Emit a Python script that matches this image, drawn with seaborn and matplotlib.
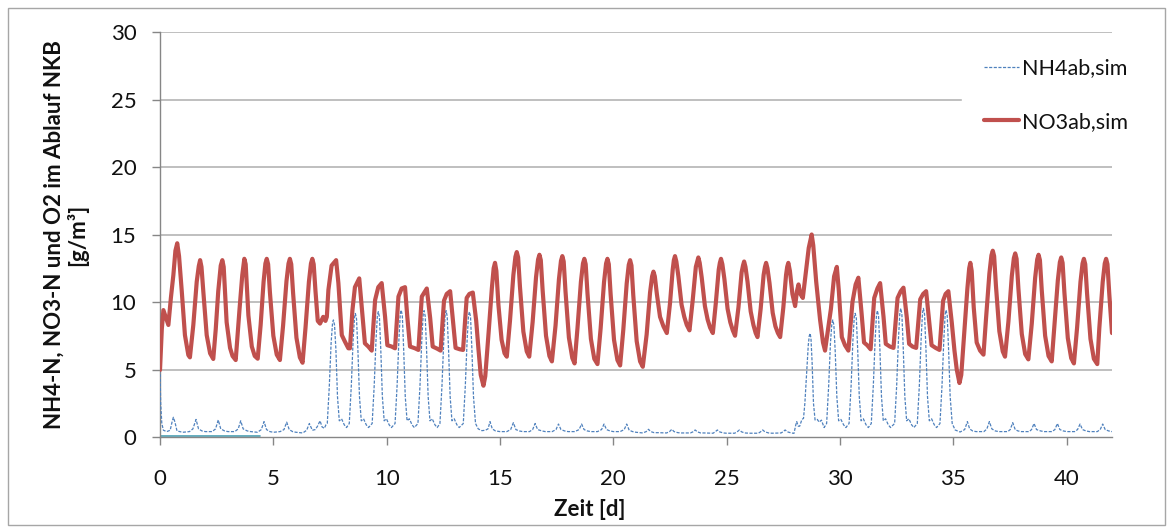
import numpy as np
import pandas as pd
import matplotlib
matplotlib.use("Agg")
import matplotlib.pyplot as plt
import seaborn as sns
from matplotlib.lines import Line2D
from matplotlib.patches import Rectangle

# ---------------- data ----------------
no3_points = [
    (0.00, 4.96), (0.08, 8.0), (0.15, 9.4), (0.25, 8.9), (0.37, 8.3), (0.48, 10.3), (0.59, 12.0),
    (0.68, 13.8), (0.76, 14.35), (0.84, 13.4), (0.96, 10.8), (1.10, 7.55), (1.25, 6.07), (1.32, 5.9),
    (1.47, 8.3), (1.62, 11.5), (1.71, 12.65), (1.77, 13.1), (1.83, 12.6), (1.91, 10.8), (2.06, 7.55),
    (2.21, 6.2), (2.35, 5.78), (2.46, 8.0), (2.57, 10.8), (2.68, 12.7), (2.75, 13.1), (2.81, 12.6),
    (2.94, 8.5), (3.09, 6.6), (3.20, 6.0), (3.34, 5.7), (3.51, 9.5), (3.63, 12.0), (3.72, 13.2),
    (3.78, 12.8), (3.90, 9.0), (4.05, 6.7), (4.18, 6.0), (4.31, 5.8), (4.44, 8.3), (4.57, 11.5),
    (4.65, 12.85), (4.71, 13.2), (4.77, 12.8), (4.85, 10.7), (5.00, 7.5), (5.15, 6.1), (5.29, 5.7),
    (5.43, 8.25), (5.58, 11.55), (5.67, 12.85), (5.73, 13.2), (5.79, 12.8), (5.87, 10.7), (6.02, 7.35),
    (6.17, 5.9), (6.29, 5.5), (6.42, 8.1), (6.57, 11.5), (6.66, 12.85), (6.72, 13.2), (6.78, 12.8),
    (6.86, 10.8), (6.96, 8.6), (7.06, 8.4), (7.20, 8.9), (7.30, 8.6), (7.36, 8.9), (7.43, 10.9),
    (7.57, 12.7), (7.77, 13.1), (7.87, 11.4), (8.02, 7.55), (8.16, 7.06), (8.31, 6.57), (8.38, 6.57),
    (8.49, 9.4), (8.60, 11.1), (8.79, 11.75), (8.94, 8.9), (9.04, 6.94), (9.19, 6.7), (9.34, 6.4),
    (9.49, 10.15), (9.63, 11.1), (9.78, 11.4), (9.93, 8.9), (10.03, 6.8), (10.22, 6.7), (10.37, 6.57),
    (10.52, 10.4), (10.66, 11.0), (10.81, 11.1), (10.91, 8.9), (11.03, 6.7), (11.25, 6.57), (11.40, 6.45),
    (11.55, 10.4), (11.77, 11.0), (11.92, 8.8), (12.03, 6.7), (12.22, 6.55), (12.38, 6.4), (12.53, 10.1),
    (12.65, 10.6), (12.80, 10.8), (12.92, 8.7), (13.04, 6.6), (13.22, 6.5), (13.37, 6.45), (13.53, 10.3),
    (13.65, 10.6), (13.80, 10.7), (13.95, 8.6), (14.05, 6.5), (14.15, 4.6), (14.27, 3.8), (14.35, 4.5),
    (14.50, 7.8), (14.64, 11.0), (14.72, 12.5), (14.78, 12.9), (14.84, 12.3), (14.93, 9.8), (15.07, 7.2),
    (15.20, 6.2), (15.30, 5.95), (15.44, 8.6), (15.59, 12.0), (15.68, 13.35), (15.74, 13.7), (15.80, 13.3),
    (15.88, 11.14), (16.03, 7.81), (16.18, 6.34), (16.29, 5.95), (16.44, 8.52), (16.59, 11.84),
    (16.68, 13.15), (16.74, 13.5), (16.80, 13.1), (16.88, 10.89), (17.03, 7.5), (17.18, 6.0), (17.29, 5.6),
    (17.45, 8.25), (17.60, 11.68), (17.69, 13.05), (17.75, 13.4), (17.81, 13.0), (17.89, 10.78),
    (18.04, 7.36), (18.19, 5.85), (18.29, 5.45), (18.42, 8.1), (18.57, 11.5), (18.66, 12.85), (18.72, 13.2),
    (18.78, 12.8), (18.86, 10.63), (19.01, 7.27), (19.16, 5.79), (19.30, 5.4), (19.44, 8.05), (19.59, 11.48),
    (19.68, 12.85), (19.74, 13.2), (19.80, 12.8), (19.88, 10.59), (20.03, 7.2), (20.18, 5.7), (20.30, 5.3),
    (20.44, 7.95), (20.59, 11.38), (20.68, 12.75), (20.74, 13.1), (20.80, 12.7), (20.88, 10.49),
    (21.03, 7.1), (21.18, 5.6), (21.30, 5.2), (21.47, 7.6), (21.62, 10.7), (21.71, 11.9), (21.77, 12.25),
    (21.83, 11.9), (21.92, 10.6), (22.06, 8.9), (22.21, 8.2), (22.36, 7.7), (22.50, 9.9), (22.62, 12.4),
    (22.67, 13.1), (22.72, 13.4), (22.78, 13.0), (22.87, 11.9), (23.01, 9.8), (23.13, 8.9), (23.24, 8.3),
    (23.36, 7.9), (23.50, 10.1), (23.64, 12.6), (23.70, 13.0), (23.75, 13.3), (23.81, 12.9), (23.90, 11.8),
    (24.04, 9.7), (24.16, 8.7), (24.27, 8.1), (24.39, 7.7), (24.52, 9.9), (24.65, 12.4), (24.70, 12.9),
    (24.75, 13.2), (24.81, 12.8), (24.90, 11.7), (25.04, 9.5), (25.16, 8.5), (25.27, 7.9), (25.37, 7.5),
    (25.52, 9.6), (25.66, 12.2), (25.72, 12.7), (25.77, 13.0), (25.83, 12.6), (25.92, 11.5), (26.06, 9.3),
    (26.18, 8.3), (26.28, 7.7), (26.36, 7.4), (26.50, 9.5), (26.63, 12.0), (26.69, 12.6), (26.74, 12.9),
    (26.80, 12.5), (26.89, 11.4), (27.03, 9.2), (27.15, 8.2), (27.26, 7.7), (27.36, 7.4), (27.50, 9.6),
    (27.62, 12.0), (27.67, 12.6), (27.72, 12.9), (27.79, 12.3), (27.90, 10.6), (28.02, 9.7), (28.10, 10.8),
    (28.17, 11.3), (28.25, 10.6), (28.36, 10.3), (28.48, 12.0), (28.62, 14.0), (28.75, 15.0), (28.82, 14.2),
    (28.95, 11.5), (29.12, 8.7), (29.25, 7.0), (29.34, 6.4), (29.60, 9.5), (29.74, 11.9), (29.86, 12.6),
    (29.95, 10.8), (30.08, 7.4), (30.22, 6.8), (30.37, 6.4), (30.55, 10.0), (30.69, 11.3), (30.81, 11.8),
    (30.95, 9.2), (31.06, 7.0), (31.20, 6.8), (31.35, 6.5), (31.51, 10.3), (31.65, 11.0), (31.77, 11.4),
    (31.92, 8.9), (32.02, 6.9), (32.20, 6.7), (32.36, 6.6), (32.54, 10.3), (32.68, 10.8), (32.80, 11.06),
    (32.95, 8.8), (33.05, 6.9), (33.20, 6.7), (33.36, 6.6), (33.54, 10.2), (33.67, 10.6), (33.80, 10.8),
    (33.93, 8.6), (34.04, 6.8), (34.22, 6.6), (34.39, 6.45), (34.55, 10.1), (34.66, 10.6), (34.78, 10.8),
    (34.93, 8.5), (35.05, 6.4), (35.15, 5.0), (35.27, 4.0), (35.35, 4.6), (35.50, 8.2), (35.62, 11.0),
    (35.70, 12.5), (35.75, 12.9), (35.81, 12.3), (35.90, 9.6), (36.03, 7.0), (36.18, 6.4), (36.33, 6.1),
    (36.44, 8.72), (36.59, 12.1), (36.68, 13.45), (36.74, 13.8), (36.80, 13.4), (36.88, 11.2), (37.03, 7.83),
    (37.18, 6.34), (37.28, 5.95), (37.43, 8.55), (37.58, 11.92), (37.67, 13.25), (37.73, 13.6), (37.79, 13.2),
    (37.87, 11.01), (38.02, 7.63), (38.17, 6.14), (38.31, 5.75), (38.46, 8.39), (38.61, 11.8), (38.70, 13.15),
    (38.76, 13.5), (38.82, 13.1), (38.90, 10.89), (39.05, 7.5), (39.20, 6.0), (39.34, 5.6), (39.46, 8.22),
    (39.61, 11.6), (39.70, 12.95), (39.76, 13.3), (39.82, 12.9), (39.90, 10.71), (40.05, 7.33), (40.20, 5.84),
    (40.32, 5.45), (40.46, 8.1), (40.61, 11.5), (40.70, 12.85), (40.76, 13.2), (40.82, 12.8), (40.90, 10.63),
    (41.05, 7.27), (41.20, 5.79), (41.35, 5.4), (41.44, 8.05), (41.59, 11.48), (41.68, 12.85), (41.74, 13.2),
    (41.80, 12.8), (41.88, 10.6), (42.00, 7.7),
]

nh4_points = [
    (0.00, 5.0), (0.03, 2.5), (0.08, 1.0), (0.15, 0.5), (0.30, 0.4), (0.45, 0.5), (0.53, 1.1), (0.59, 1.46),
    (0.66, 1.1), (0.75, 0.45), (1.00, 0.35), (1.30, 0.4), (1.45, 0.6), (1.59, 1.3), (1.70, 0.6), (1.85, 0.45),
    (2.00, 0.4), (2.30, 0.4), (2.45, 0.6), (2.57, 1.26), (2.68, 0.6), (2.85, 0.45), (3.00, 0.4), (3.30, 0.4),
    (3.45, 0.6), (3.56, 1.2), (3.67, 0.6), (3.85, 0.45), (4.00, 0.4), (4.30, 0.35), (4.47, 0.55), (4.59, 1.14),
    (4.70, 0.55), (4.85, 0.4), (5.00, 0.35), (5.30, 0.4), (5.47, 0.55), (5.59, 1.1), (5.70, 0.55), (5.85, 0.4),
    (6.00, 0.35), (6.30, 0.3), (6.47, 0.5), (6.59, 1.0), (6.72, 0.5), (6.85, 0.55), (6.95, 0.8), (7.06, 1.2),
    (7.15, 0.75), (7.25, 0.64), (7.32, 0.9),
    (7.38, 1.0), (7.47, 3.8), (7.55, 7.0), (7.61, 8.4), (7.65, 8.67), (7.70, 8.3), (7.76, 6.5), (7.83, 3.0),
    (7.91, 1.2), (8.01, 1.35), (8.13, 0.9), (8.23, 0.7),
    (8.35, 1.0), (8.44, 3.8), (8.52, 7.2), (8.58, 8.85), (8.62, 9.15), (8.67, 8.75), (8.73, 6.5), (8.80, 3.0),
    (8.88, 1.2), (8.98, 1.35), (9.10, 0.9), (9.20, 0.7),
    (9.36, 1.0), (9.45, 3.8), (9.53, 7.2), (9.59, 9.0), (9.63, 9.28), (9.68, 8.9), (9.74, 6.5), (9.81, 3.0),
    (9.89, 1.2), (9.99, 1.35), (10.11, 0.9), (10.21, 0.7),
    (10.37, 1.0), (10.46, 3.8), (10.54, 7.2), (10.60, 9.1), (10.64, 9.4), (10.69, 9.0), (10.75, 6.5),
    (10.82, 3.0), (10.90, 1.2), (11.00, 1.35), (11.12, 0.9), (11.22, 0.7),
    (11.38, 1.0), (11.47, 3.8), (11.55, 7.2), (11.61, 9.05), (11.65, 9.36), (11.70, 8.95), (11.76, 6.5),
    (11.83, 3.0), (11.91, 1.2), (12.01, 1.35), (12.13, 0.9), (12.23, 0.7),
    (12.35, 1.0), (12.44, 3.8), (12.52, 7.2), (12.58, 9.05), (12.62, 9.36), (12.67, 8.95), (12.73, 6.5),
    (12.80, 3.0), (12.88, 1.2), (12.98, 1.35), (13.10, 0.9), (13.20, 0.7),
    (13.38, 1.0), (13.47, 3.8), (13.55, 7.2), (13.61, 9.0), (13.65, 9.28), (13.70, 8.9), (13.76, 6.5),
    (13.83, 3.0), (13.92, 1.0), (14.04, 0.6), (14.20, 0.47), (14.35, 0.5),
    (14.47, 0.6), (14.56, 1.14), (14.66, 0.6), (14.80, 0.45), (15.00, 0.4), (15.30, 0.4), (15.47, 0.55),
    (15.59, 1.06), (15.70, 0.55), (15.85, 0.45), (16.00, 0.4), (16.30, 0.4), (16.44, 0.55), (16.55, 1.0),
    (16.66, 0.55), (16.85, 0.45), (17.00, 0.4), (17.30, 0.4), (17.47, 0.55), (17.58, 0.96), (17.69, 0.55),
    (17.85, 0.45), (18.00, 0.4), (18.30, 0.4), (18.49, 0.55), (18.60, 0.96), (18.71, 0.55), (18.85, 0.45),
    (19.00, 0.4), (19.30, 0.4), (19.48, 0.55), (19.59, 0.96), (19.70, 0.55), (19.85, 0.45), (20.00, 0.4),
    (20.30, 0.4), (20.48, 0.55), (20.59, 0.96), (20.70, 0.5), (20.85, 0.4), (21.00, 0.35), (21.30, 0.3),
    (21.45, 0.4), (21.55, 0.57), (21.65, 0.4), (21.80, 0.32), (22.00, 0.32), (22.35, 0.3), (22.48, 0.4),
    (22.58, 0.57), (22.68, 0.4), (22.85, 0.32), (23.00, 0.3), (23.40, 0.3), (23.51, 0.38), (23.61, 0.52),
    (23.71, 0.38), (23.85, 0.3), (24.00, 0.3), (24.40, 0.28), (24.49, 0.38), (24.59, 0.52), (24.69, 0.38),
    (24.85, 0.3), (25.00, 0.28), (25.35, 0.28), (25.46, 0.38), (25.56, 0.52), (25.66, 0.38), (25.80, 0.3),
    (26.00, 0.28), (26.40, 0.28), (26.49, 0.38), (26.59, 0.52), (26.69, 0.38), (26.85, 0.3), (27.00, 0.28),
    (27.40, 0.3), (27.48, 0.38), (27.58, 0.52), (27.68, 0.38), (27.85, 0.3), (27.97, 0.27), (28.05, 0.9),
    (28.09, 1.14), (28.16, 0.8), (28.22, 0.8), (28.32, 1.3), (28.39, 1.38),
    (28.45, 2.5), (28.52, 4.5), (28.60, 6.8), (28.64, 7.45), (28.68, 7.68), (28.72, 7.3), (28.77, 5.5),
    (28.83, 2.5), (28.90, 1.26), (29.00, 1.3), (29.08, 1.1), (29.18, 1.25), (29.30, 0.7),
    (29.41, 1.0), (29.50, 3.8), (29.58, 7.0), (29.64, 8.4), (29.68, 8.67), (29.73, 8.3), (29.79, 6.3),
    (29.86, 3.0), (29.94, 1.2), (30.04, 1.3), (30.16, 0.9), (30.26, 0.7),
    (30.40, 1.0), (30.49, 3.8), (30.57, 7.2), (30.63, 8.9), (30.67, 9.16), (30.72, 8.8), (30.78, 6.5),
    (30.85, 3.0), (30.93, 1.2), (31.03, 1.35), (31.15, 0.9), (31.25, 0.7),
    (31.38, 1.0), (31.47, 3.8), (31.55, 7.2), (31.61, 9.05), (31.65, 9.36), (31.70, 8.95), (31.76, 6.5),
    (31.83, 3.0), (31.91, 1.2), (32.01, 1.35), (32.13, 0.9), (32.23, 0.7),
    (32.41, 1.0), (32.50, 3.8), (32.58, 7.3), (32.64, 9.2), (32.68, 9.53), (32.73, 9.1), (32.79, 6.6),
    (32.86, 3.0), (32.94, 1.2), (33.04, 1.35), (33.16, 0.9), (33.26, 0.7),
    (33.41, 1.0), (33.50, 3.8), (33.58, 7.3), (33.64, 9.2), (33.68, 9.53), (33.73, 9.1), (33.79, 6.6),
    (33.86, 3.0), (33.94, 1.2), (34.04, 1.35), (34.16, 0.9), (34.26, 0.7),
    (34.41, 1.0), (34.50, 3.8), (34.58, 7.2), (34.64, 9.1), (34.68, 9.4), (34.73, 9.0), (34.79, 6.5),
    (34.86, 3.0), (34.95, 1.0), (35.08, 0.52), (35.30, 0.37),
    (35.50, 0.55), (35.62, 1.14), (35.72, 0.6), (35.85, 0.45), (36.00, 0.4), (36.35, 0.4), (36.48, 0.6),
    (36.59, 1.14), (36.70, 0.6), (36.85, 0.45), (37.00, 0.4), (37.40, 0.4), (37.51, 0.55), (37.62, 1.06),
    (37.73, 0.55), (37.85, 0.45), (38.00, 0.4), (38.35, 0.4), (38.45, 0.55), (38.56, 1.0), (38.67, 0.55),
    (38.85, 0.45), (39.00, 0.4), (39.35, 0.4), (39.48, 0.55), (39.59, 1.0), (39.70, 0.55), (39.85, 0.45),
    (40.00, 0.4), (40.35, 0.4), (40.48, 0.55), (40.59, 0.96), (40.70, 0.55), (40.85, 0.45), (41.00, 0.4),
    (41.35, 0.4), (41.48, 0.55), (41.59, 0.96), (41.70, 0.55), (41.85, 0.45), (42.00, 0.4),
]

o2_t = [0.0, 4.41]
o2_v = [0.05, 0.05]

no3_t = [p[0] for p in no3_points]
no3_v = [p[1] for p in no3_points]
nh4_t = [p[0] for p in nh4_points]
nh4_v = [p[1] for p in nh4_points]

labels = ["NH4ab,sim", "NO3ab,sim"]
y_ticks = [0, 5, 10, 15, 20, 25, 30]
x_ticks = [0, 5, 10, 15, 20, 25, 30, 35, 40]
ylabel_text = "NH4-N, NO3-N und O2 im Ablauf NKB\n[g/m³]"
xlabel_text = "Zeit [d]"

# ---------------- style ----------------
sns.set_theme(style="white")
plt.rcParams["font.family"] = ["Lato", "DejaVu Sans"]

W, H = 1170, 531
fig = plt.figure(figsize=(W / 100, H / 100), dpi=100)
ax = fig.add_axes([160 / W, 1 - 437 / H, (1112 - 160) / W, (437 - 32) / H])

df_nh4 = pd.DataFrame({"t": nh4_t, "v": nh4_v})
df_no3 = pd.DataFrame({"t": no3_t, "v": no3_v})
df_o2 = pd.DataFrame({"t": o2_t, "v": o2_v})

for yv in y_ticks[1:]:
    ax.axhline(yv, color="#bfbfbf", lw=1.4, zorder=0)

sns.lineplot(data=df_o2, x="t", y="v", ax=ax, color="#4a9fb3", lw=1.2,
             estimator=None, sort=False, zorder=2)
sns.lineplot(data=df_nh4, x="t", y="v", ax=ax, color="#4F81BD", lw=0.9,
             linestyle=(0, (2.5, 1.2)), estimator=None, sort=False, zorder=3)
sns.lineplot(data=df_no3, x="t", y="v", ax=ax, color="#C0504D", lw=3.0,
             estimator=None, sort=False, zorder=4, solid_joinstyle="round")

ax.set_xlim(0, 42)
ax.set_ylim(0, 30)
ax.set_xticks(x_ticks)
ax.set_yticks(y_ticks)
ax.grid(False)
for s in ["top", "right"]:
    ax.spines[s].set_visible(False)
for s in ["left", "bottom"]:
    ax.spines[s].set_color("#868686")
    ax.spines[s].set_linewidth(1.0)
ax.tick_params(axis="y", which="major", length=6, width=1, color="#868686",
               pad=11, labelsize=16, labelcolor="#111111", left=True)
ax.tick_params(axis="x", which="major", length=6, width=1, color="#868686",
               pad=17, labelsize=16, labelcolor="#111111", bottom=True)

ax.set_xlabel(xlabel_text, fontsize=16, fontweight="bold", color="#111111")
ax.xaxis.set_label_coords((590 - 160) / (1112 - 160), -0.153)
ax.set_ylabel(ylabel_text, fontsize=16, fontweight="bold", color="#111111",
              linespacing=1.1)
ax.yaxis.set_label_coords(-0.075, 0.5)

handles = [Line2D([0], [0], color="#4F81BD", lw=0.9, linestyle=(0, (2.5, 1.2))),
           Line2D([0], [0], color="#C0504D", lw=3.0)]
leg = fig.legend(handles, labels, loc="upper left", bbox_to_anchor=(962 / W, 1 - 37 / H),
                 bbox_transform=fig.transFigure, frameon=True, facecolor="white",
                 edgecolor="white", framealpha=1, fontsize=15.5, handlelength=1.65,
                 handletextpad=0.15, labelspacing=1.55, borderpad=1.0, borderaxespad=0)
for t in leg.get_texts():
    t.set_color("#111111")

fig.add_artist(Rectangle((8 / W, 6 / H), (1165 - 8) / W, (525 - 8) / H,
                         transform=fig.transFigure, fill=False,
                         edgecolor="#a6a6a6", lw=1.0))

fig.savefig("out.png", dpi=100, facecolor="white")
